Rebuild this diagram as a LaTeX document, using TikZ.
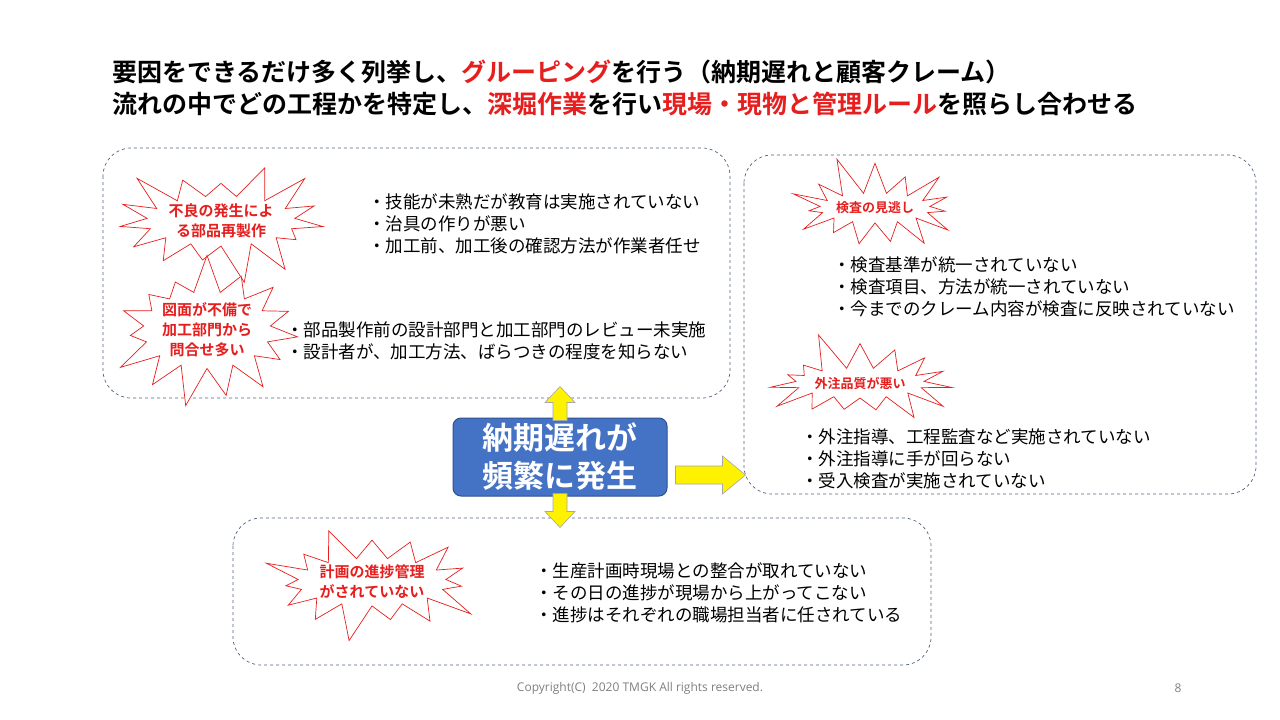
\documentclass[tikz,border=0pt]{standalone}
\usepackage{fontspec}
\setmainfont{Noto Sans CJK JP}
\newfontfamily\jpb{Noto Sans CJK JP Bold}
\newfontfamily\cpy{Open Sans}
\usetikzlibrary{shapes.symbols}
\definecolor{cred}{RGB}{230,30,30}
\definecolor{cblue}{RGB}{68,114,196}
\definecolor{cbord}{RGB}{47,82,143}
\definecolor{cdash}{RGB}{80,100,130}
\tikzset{
 grp/.style={draw=cdash,dashed,rounded corners=28pt,line width=0.7pt},
 burst/.style={starburst,draw=cred,fill=white,line width=0.7pt,starburst points=15,
   starburst point height=40pt,align=center,text=cred,font=\jpb\fontsize{15}{20}\selectfont,inner sep=0pt},
 bul/.style={anchor=west,align=left,font=\fontsize{17.5}{22}\selectfont,inner sep=0pt},
 yarr/.style={draw=gray!70,fill=yellow,line width=0.6pt},
}
\begin{document}
\begin{tikzpicture}[x=1pt,y=-1pt]
\useasboundingbox (0,0) rectangle (1280,720);
\fill[white] (0,0) rectangle (1280,720);
\node[anchor=west,inner sep=0pt,font=\jpb\fontsize{25}{30}\selectfont] (t1) at (112,72) {要因をできるだけ多く列挙し、\textcolor{cred}{グルーピング}を行う（納期遅れと顧客クレーム）};
\node[anchor=west,inner sep=0pt,font=\jpb\fontsize{25}{30}\selectfont] (t2) at (112,104) {流れの中でどの工程かを特定し、\textcolor{cred}{深堀作業}を行い\textcolor{cred}{現場・現物と管理ルール}を照らし合わせる};
% groups
\draw[grp] (103,148) rectangle (730,398);
\draw[grp] (744,155) rectangle (1256,494);
\draw[grp] (233,518) rectangle (931,665);
% bursts
\node[burst,minimum width=198pt,minimum height=130pt,random starburst=3] (b1) at (221,221) {不良の発生によ\\る部品再製作};
\node[burst,minimum width=190pt,minimum height=125pt,random starburst=7] (b2) at (207,330) {図面が不備で\\加工部門から\\問合せ多い};
\node[burst,minimum width=180pt,minimum height=110pt,random starburst=11,font=\jpb\fontsize{13}{18}\selectfont] (b3) at (875,208) {検査の見逃し};
\node[burst,minimum width=190pt,minimum height=110pt,random starburst=5,font=\jpb\fontsize{13}{18}\selectfont] (b4) at (860,383) {外注品質が悪い};
\node[burst,minimum width=190pt,minimum height=120pt,random starburst=9] (b5) at (372,582) {計画の進捗管理\\がされていない};
% bullets
\node[bul] (l1) at (368,224) {・技能が未熟だが教育は実施されていない\\・治具の作りが悪い\\・加工前、加工後の確認方法が作業者任せ};
\node[bul] (l2) at (286,341) {・部品製作前の設計部門と加工部門のレビュー未実施\\・設計者が、加工方法、ばらつきの程度を知らない};
\node[bul] (l3) at (833,287) {・検査基準が統一されていない\\・検査項目、方法が統一されていない\\・今までのクレーム内容が検査に反映されていない};
\node[bul] (l4) at (801,459) {・外注指導、工程監査など実施されていない\\・外注指導に手が回らない\\・受入検査が実施されていない};
\node[bul] (l5) at (535,593) {・生産計画時現場との整合が取れていない\\・その日の進捗が現場から上がってこない\\・進捗はそれぞれの職場担当者に任されている};
% center
\node[draw=cbord,fill=cblue,rounded corners=8pt,line width=1pt,minimum width=214pt,minimum height=78pt,
  text=white,align=center,font=\jpb\fontsize{31}{38}\selectfont] (c) at (560,457) {納期遅れが\\頻繁に発生};
% arrows
\coordinate (u) at (c.north);
\draw[yarr] ([xshift=-7pt,yshift=-3pt]u) -- ++(0,-18) -- ++(-8,0) -- ++(15,-16) -- ++(15,16) -- ++(-8,0) -- ++(0,18) -- cycle;
\coordinate (d) at (c.south);
\draw[yarr] ([xshift=-7pt,yshift=3pt]d) -- ++(0,18) -- ++(-8,0) -- ++(15,16) -- ++(15,-16) -- ++(-8,0) -- ++(0,-18) -- cycle;
\coordinate (r) at (c.east);
\draw[yarr] ([xshift=8pt,yshift=-9pt]r) -- ++(47,0) -- ++(0,-10) -- ++(23,19) -- ++(-23,19) -- ++(0,-10) -- ++(-47,0) -- cycle;
% footer
\node[font=\cpy\fontsize{12}{14}\selectfont,text=gray] (f) at (640,688) {Copyright(C)\ \ 2020 TMGK All rights reserved.};
\node[font=\cpy\fontsize{12}{14}\selectfont,text=gray] (p) at (1178,688) {8};
\end{tikzpicture}
\end{document}
